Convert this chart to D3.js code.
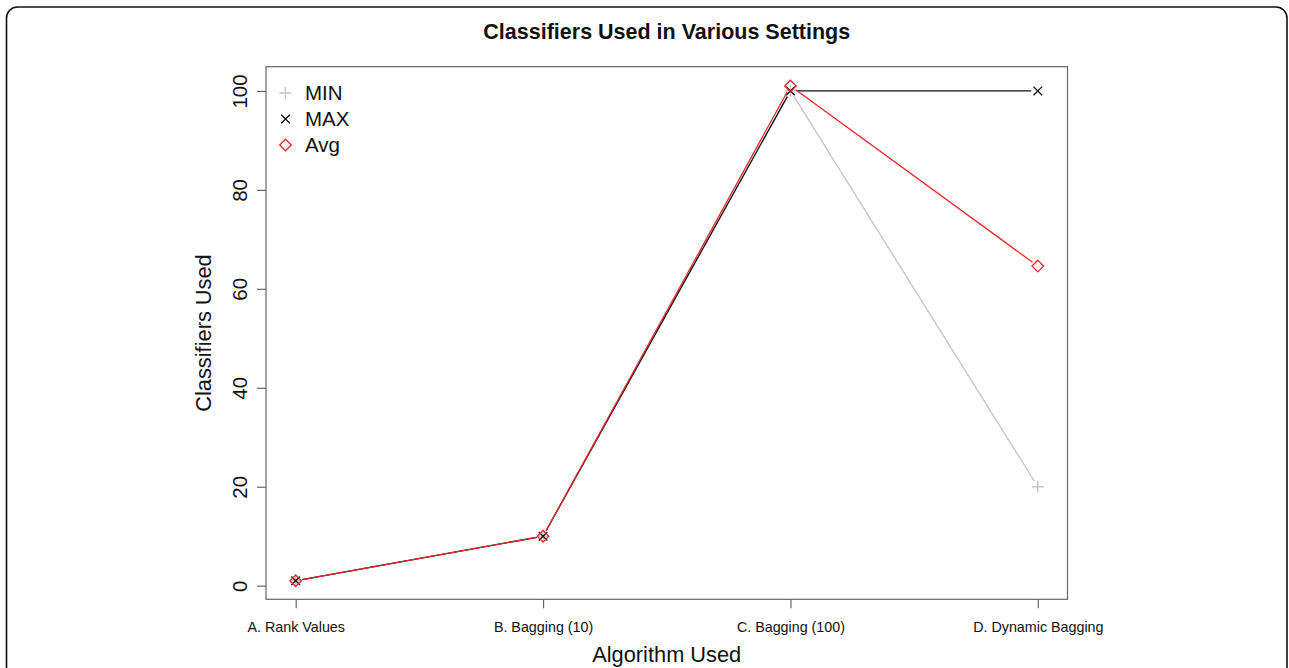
<!DOCTYPE html>
<html><head><meta charset="utf-8">
<script src="https://cdn.jsdelivr.net/npm/d3@7"></script>
<style>
html,body{margin:0;padding:0;background:#fff;}
svg{display:block;font-family:"Liberation Sans",Arial,Helvetica,sans-serif;}
</style></head>
<body>
<svg id="chart" width="1289" height="668"></svg>
<script>
const categories = ["A. Rank Values", "B. Bagging (10)", "C. Bagging (100)", "D. Dynamic Bagging"];
const minValues = [1, 10, 100, 20];
const maxValues = [1, 10, 100, 100];
const avgValues = [1, 10, 101, 64.6];
const yTicks = [0, 20, 40, 60, 80, 100];
const seriesNames = ["MIN", "MAX", "Avg"];

const svg = d3.select("#chart");
const plot = {left: 266, right: 1067.5, top: 66.7, bottom: 599.3};

// outer rounded frame
svg.append("rect").attr("x", 6.5).attr("y", 7).attr("width", 1280.5).attr("height", 700)
  .attr("rx", 11).attr("fill", "none").attr("stroke", "#111").attr("stroke-width", 1.6);

const x = d3.scaleLinear().domain([-0.12, 3.12]).range([plot.left, plot.right]);
const y = d3.scaleLinear().domain([-2.75, 104.9]).range([plot.bottom, plot.top]);

// title
svg.append("text").attr("x", (plot.left + plot.right) / 2).attr("y", 39)
  .attr("text-anchor", "middle").attr("font-weight", "bold").attr("font-size", 21.5)
  .attr("fill", "#111").text("Classifiers Used in Various Settings");

// box
svg.append("rect").attr("x", plot.left).attr("y", plot.top)
  .attr("width", plot.right - plot.left).attr("height", plot.bottom - plot.top)
  .attr("fill", "none").attr("stroke", "#666").attr("stroke-width", 1.2);

// y axis
const yAxis = d3.axisLeft(y).tickValues(yTicks).tickSize(9).tickPadding(10).tickFormat(d3.format("d"));
const gy = svg.append("g").attr("transform", `translate(${plot.left},0)`).call(yAxis);
gy.select(".domain").remove();
gy.selectAll(".tick line").attr("stroke", "#666").attr("stroke-width", 1.2);
gy.selectAll(".tick text").attr("font-size", 20.5).attr("fill", "#111")
  .attr("font-family", "Liberation Sans, Arial, sans-serif")
  .attr("text-anchor", "middle").attr("dy", 0)
  .attr("transform", "translate(-27,0) rotate(-90)")
  .attr("x", 0).attr("y", 0)
  .attr("dominant-baseline", "central");

// x axis
const xAxis = d3.axisBottom(x).tickValues(d3.range(categories.length))
  .tickFormat(i => categories[i]).tickSize(9).tickPadding(14);
const gx = svg.append("g").attr("transform", `translate(0,${plot.bottom})`).call(xAxis);
gx.select(".domain").remove();
gx.selectAll(".tick line").attr("stroke", "#666").attr("stroke-width", 1.2);
gx.selectAll(".tick text").attr("font-size", 14.3).attr("fill", "#111")
  .attr("font-family", "Liberation Sans, Arial, sans-serif");

// axis titles
svg.append("text").attr("transform", `translate(211,${(plot.top + plot.bottom) / 2}) rotate(-90)`)
  .attr("text-anchor", "middle").attr("font-size", 21.8).attr("fill", "#111").text("Classifiers Used");
svg.append("text").attr("x", (plot.left + plot.right) / 2).attr("y", 662)
  .attr("text-anchor", "middle").attr("font-size", 21.8).attr("fill", "#111").text("Algorithm Used");

const series = [
  {name: seriesNames[0], values: minValues, color: "#c4c4c4", shape: "plus"},
  {name: seriesNames[1], values: maxValues, color: "#111111", shape: "cross"},
  {name: seriesNames[2], values: avgValues, color: "#e8262b", shape: "diamond"}
];

function marker(g, shape, cx, cy, color) {
  if (shape === "plus") {
    const s = 6;
    g.append("path").attr("d", `M${cx - s},${cy}H${cx + s}M${cx},${cy - s}V${cy + s}`)
      .attr("stroke", color).attr("stroke-width", 1.3).attr("fill", "none");
  } else if (shape === "cross") {
    const s = 4.3;
    g.append("path").attr("d", `M${cx - s},${cy - s}L${cx + s},${cy + s}M${cx - s},${cy + s}L${cx + s},${cy - s}`)
      .attr("stroke", color).attr("stroke-width", 1.3).attr("fill", "none");
  } else {
    const s = 5.8;
    g.append("path").attr("d", `M${cx},${cy - s}L${cx + s},${cy}L${cx},${cy + s}L${cx - s},${cy}Z`)
      .attr("stroke", color).attr("stroke-width", 1.3).attr("fill", "none");
  }
}

const gap = 6.5;
series.forEach(s => {
  const g = svg.append("g");
  const pts = s.values.map((v, i) => [x(i), y(v)]);
  for (let i = 0; i < pts.length - 1; i++) {
    const [x1, y1] = pts[i], [x2, y2] = pts[i + 1];
    const dx = x2 - x1, dy = y2 - y1, L = Math.hypot(dx, dy);
    if (L <= 2 * gap) continue;
    const ux = dx / L, uy = dy / L;
    g.append("line")
      .attr("x1", x1 + ux * gap).attr("y1", y1 + uy * gap)
      .attr("x2", x2 - ux * gap).attr("y2", y2 - uy * gap)
      .attr("stroke", s.color).attr("stroke-width", 1.3);
  }
  pts.forEach(p => marker(g, s.shape, p[0], p[1], s.color));
});

// legend
const lg = svg.append("g");
series.forEach((s, i) => {
  const cy = 93 + i * 26;
  marker(lg, s.shape, 285.5, cy, s.color);
  lg.append("text").attr("x", 305).attr("y", cy).attr("dy", "0.36em")
    .attr("font-size", 20.5).attr("fill", "#111").text(s.name);
});
</script>
</body></html>
